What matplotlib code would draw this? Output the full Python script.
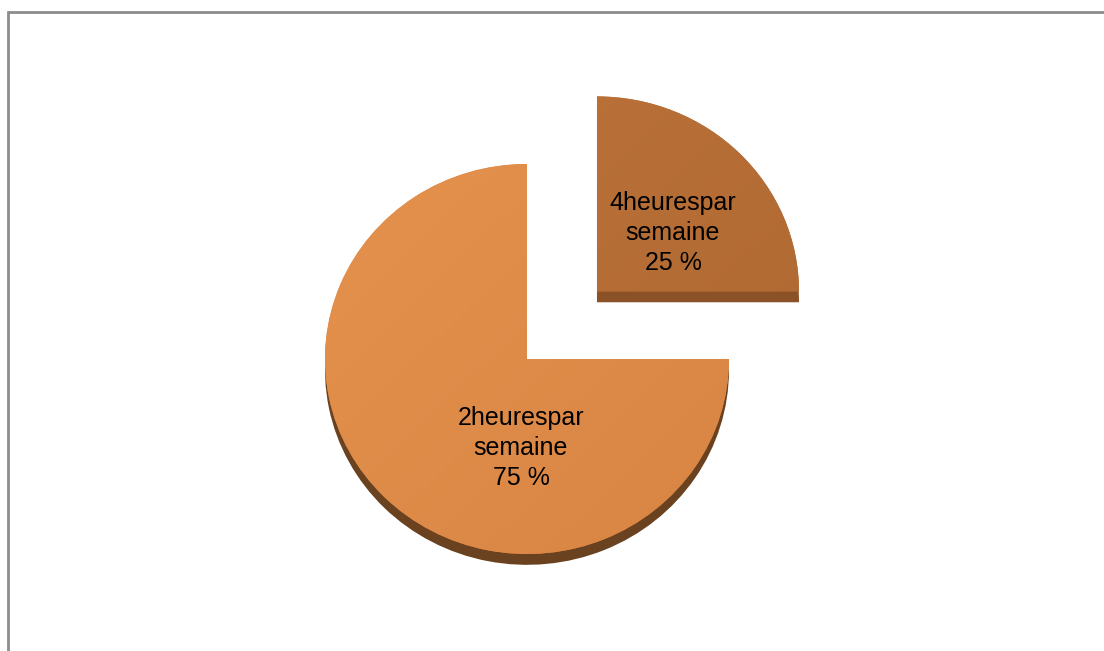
import numpy as np
import matplotlib
matplotlib.use("Agg")
import matplotlib.pyplot as plt
from matplotlib.patches import Shadow, Rectangle
from matplotlib.colors import LinearSegmentedColormap

plt.rcParams['font.family'] = ['Liberation Sans', 'DejaVu Sans']

# %% Data
labels = ["4heurespar\nsemaine", "2heurespar\nsemaine"]
shares = [25, 75]
explode = [0.49, 0.0]

face_top = ["#BB733A", "#E5924E"]
face_bot = ["#B06832", "#D88443"]
side_cols = ["#8A5226", "#6A4220"]

# %% Figure
fig = plt.figure(figsize=(11.04, 6.51), dpi=100)
ax = fig.add_axes([0, 0, 1, 1])

wedges, _ = ax.pie(shares, explode=explode, startangle=90, counterclock=False,
                   colors=face_bot, radius=1.0, center=(0, 0),
                   wedgeprops=dict(linewidth=0, zorder=3), frame=False)

# pixel-based limits, slightly flattened look
xlim = (-527 / 202, (1104 - 527) / 202)
ylim = (-(651 - 359) / 195, 359 / 195)

# depth side + light gradient on each slice
for w, top, bot, side in zip(wedges, face_top, face_bot, side_cols):
    sh = Shadow(w, 0, -0.04, facecolor=side, edgecolor=side, alpha=1, zorder=2)
    ax.add_patch(sh)
    cx, cy = w.center
    cmap = LinearSegmentedColormap.from_list("g", [top, bot])
    grad = np.add.outer(np.linspace(0, 1, 100), np.linspace(0, 1, 100)) / 2
    im = ax.imshow(grad, cmap=cmap, extent=(cx - 1, cx + 1, cy - 1, cy + 1),
                   origin='upper', zorder=4, aspect='auto')
    im.set_clip_path(w)

# labels
pct = [f"{v} %" for v in shares]
label_off = [(0.376, 0.300), (-0.030, -0.455)]
for w, lab, p, (dx, dy) in zip(wedges, labels, pct, label_off):
    cx, cy = w.center
    ax.text(cx + dx, cy + dy, lab + "\n" + p, ha='center', va='center',
            fontsize=18, linespacing=1.32, color='black', zorder=6)

ax.set_xlim(*xlim)
ax.set_ylim(*ylim)
ax.set_aspect('auto')
ax.axis('off')

# chart border (only top and left visible)
fig.patches.append(Rectangle((7.5 / 1104, -0.2), 1.5, 0.2 + 639 / 651,
                             transform=fig.transFigure, fill=False,
                             edgecolor='#8C8C8C', linewidth=2))

fig.savefig("out.png", dpi=100)
